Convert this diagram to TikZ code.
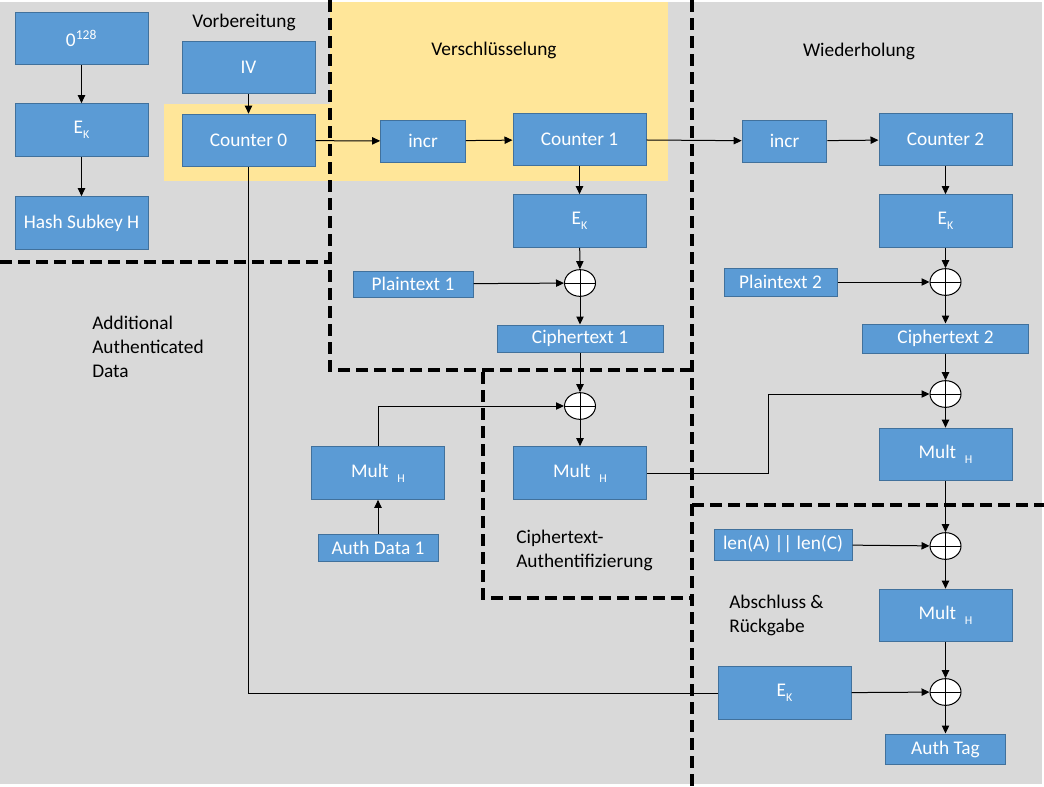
\documentclass[tikz,border=0pt]{standalone}
\usepackage{fontspec}
\setmainfont{Carlito}
\usetikzlibrary{arrows.meta,shapes.geometric}
\definecolor{boxblue}{RGB}{91,155,213}
\definecolor{boxline}{RGB}{65,113,156}
\definecolor{bggray}{RGB}{217,217,217}
\definecolor{hiyellow}{RGB}{255,230,153}
\newcommand{\lowsub}[1]{\raisebox{-4pt}{\fontsize{9}{9}\selectfont #1}}
\begin{document}
\begin{tikzpicture}[x=0.75pt,y=0.75pt,yscale=-1,xscale=1,
  blk/.style={draw=boxline, fill=boxblue, text=white, inner sep=0pt, line width=0.75pt, font=\fontsize{14.5}{17}\selectfont},
  big/.style={blk, minimum width=99.75pt, minimum height=39.5pt},
  incrbox/.style={blk, minimum width=63.5pt, minimum height=31.5pt},
  xor/.style={ellipse, draw, fill=white, line width=0.75pt, minimum width=23.25pt, minimum height=20pt, inner sep=0pt,
    path picture={\draw (path picture bounding box.north) -- (path picture bounding box.south) (path picture bounding box.west) -- (path picture bounding box.east);}},
  arr/.style={-{Triangle[length=6pt,width=5.5pt]}, line width=0.75pt},
  lbl/.style={text=black, align=left, inner sep=0pt, font=\fontsize{14.5}{18}\selectfont},
  dashline/.style={line width=3pt, dash pattern=on 9pt off 4.5pt}]
\useasboundingbox (0,0) rectangle (1044,786);
%Shape: Background
\fill[bggray] (0,2) rectangle (1042,784);
%Shape: Highlight
\fill[hiyellow] (330,2) rectangle (668,181);
\fill[hiyellow] (164,104) rectangle (330,181);
%Dashed borders
\draw[dashline] (0,262) -- (330,262);
\draw[dashline] (330,0) -- (330,370) -- (692,370);
\draw[dashline] (692,0) -- (692,786);
\draw[dashline] (483,372) -- (483,598) -- (692,598);
\draw[dashline] (692,505) -- (1044,505);

% Vorbereitung
\node[big] (zero) at (81.5,38.5) {0\textsuperscript{128}};
\node[big] (ekA) at (81.5,130) {E\lowsub{K}};
\node[big] (hash) at (81.5,223) {Hash Subkey H};
\node[big] (iv) at (248.5,67.5) {IV};
\node[big] (ctr0) at (248.5,140.5) {Counter 0};
% Verschluesselung
\node[incrbox] (incrA) at (423,141) {incr};
\node[big] (ctr1) at (579.5,139.5) {Counter 1};
\node[big] (ekB) at (579.5,221) {E\lowsub{K}};
\node[blk, minimum width=90pt, minimum height=19.5pt] (pt1) at (413,284) {Plaintext 1};
\node[xor] (x1) at (580,283) {};
\node[blk, minimum width=124.5pt, minimum height=20.25pt] (ct1) at (580,338.5) {Ciphertext 1};
% Ciphertext-Authentifizierung
\node[xor] (x2) at (580,406) {};
\node[big] (multB) at (580,473) {Mult \ \lowsub{H}};
\node[big] (multA) at (378,473) {Mult \ \lowsub{H}};
\node[blk, minimum width=90pt, minimum height=20.25pt] (ad1) at (378,547.5) {Auth Data 1};
% Wiederholung
\node[incrbox] (incrB) at (784.5,141) {incr};
\node[big] (ctr2) at (945.5,139.5) {Counter 2};
\node[big] (ekC) at (945.5,221) {E\lowsub{K}};
\node[blk, minimum width=84.75pt, minimum height=21pt] (pt2) at (780.5,282) {Plaintext 2};
\node[xor] (x3) at (945.5,282) {};
\node[blk, minimum width=124.5pt, minimum height=21.75pt] (ct2) at (945.5,338.5) {Ciphertext 2};
\node[xor] (x4) at (945.5,394) {};
\node[big] (multC) at (945.5,454.5) {Mult \ \lowsub{H}};
% Abschluss
\node[xor] (x5) at (945.5,546) {};
\node[blk, minimum width=103.5pt, minimum height=23.25pt] (len) at (783,544.5) {len(A) || len(C)};
\node[big] (multD) at (945.5,615.5) {Mult \ \lowsub{H}};
\node[xor] (x6) at (945.5,692) {};
\node[big] (ekD) at (784.5,693) {E\lowsub{K}};
\node[blk, minimum width=90pt, minimum height=22.5pt] (tag) at (945.5,749) {Auth Tag};

% Text Node
\node[lbl] (prep) at (244,22) {Vorbereitung};
% Text Node
\node[lbl] (enc) at (494,50) {Verschlüsselung};
% Text Node
\node[lbl] (rep) at (859,51) {Wiederholung};
% Text Node
\node[lbl, anchor=west] (aad) at (92,347) {Additional\\Authenticated\\Data};
% Text Node
\node[lbl, anchor=west] (cauth) at (516,550) {Ciphertext-\\Authentifizierung};
% Text Node
\node[lbl, anchor=west] (fin) at (729,615) {Abschluss \&\\Rückgabe};

% Connectors
\draw[arr] (zero) -- (ekA);
\draw[arr] (ekA) -- (hash);
\draw[arr] (iv) -- (ctr0);
\draw[arr] (ctr0) -- (incrA);
\draw[arr] (incrA) -- (ctr1);
\draw[arr] (ctr1) -- (incrB);
\draw[arr] (incrB) -- (ctr2);
\draw[arr] (ctr1) -- (ekB);
\draw[arr] (ekB) -- (x1);
\draw[arr] (pt1) -- (x1);
\draw[arr] (x1) -- (ct1);
\draw[arr] (ct1) -- (x2);
\draw[arr] (x2) -- (multB);
\draw[arr] (multA.north) |- (x2.west);
\draw[arr] (ad1) -- (multA);
\draw[arr] (ctr2) -- (ekC);
\draw[arr] (ekC) -- (x3);
\draw[arr] (pt2) -- (x3);
\draw[arr] (x3) -- (ct2);
\draw[arr] (ct2) -- (x4);
\draw[arr] (x4) -- (multC);
\coordinate (bend) at (768,473);
\draw[arr] (multB.east) -- (bend) |- (x4.west);
\draw[arr] (multC) -- (x5);
\draw[arr] (len) -- (x5);
\draw[arr] (x5) -- (multD);
\draw[arr] (multD) -- (x6);
\draw[arr] (ekD) -- (x6);
\draw[arr] (x6) -- (tag);
\draw[line width=0.75pt] (ctr0.south) |- (ekD.west);
\end{tikzpicture}
\end{document}
